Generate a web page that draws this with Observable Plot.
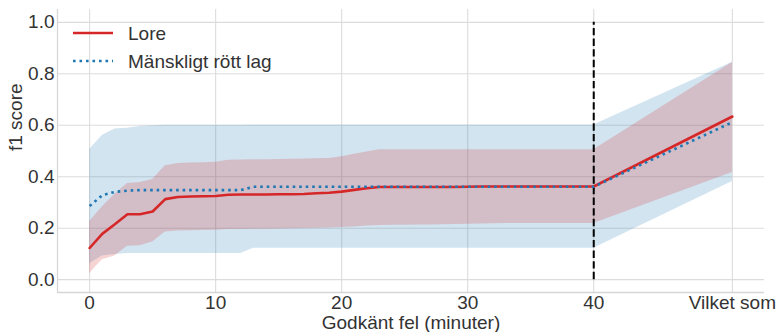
<!DOCTYPE html>
<html><head><meta charset="utf-8">
<script src="https://cdn.jsdelivr.net/npm/d3@7"></script>
<script src="https://cdn.jsdelivr.net/npm/@observablehq/plot@0.6"></script>
<style>
body{margin:0;background:#fff;}
#wrap{position:relative;width:777px;height:332px;font-family:"Liberation Sans",Arial,sans-serif;}
#legend{position:absolute;left:0;top:0;pointer-events:none;}
</style></head><body><div id="wrap"></div>
<script>
const xs = [0,1,2,3,4,5,6,7,8,9,10,11,12,13,14,15,16,17,18,19,20,21,22,23,24,25,26,27,28,29,30,31,32,33,34,35,36,37,38,39,40,51];
const loreMean = [0.123,0.178,0.215,0.254,0.254,0.265,0.313,0.321,0.323,0.324,0.325,0.330,0.331,0.331,0.331,0.332,0.332,0.333,0.336,0.338,0.342,0.349,0.355,0.360,0.360,0.360,0.360,0.360,0.360,0.360,0.361,0.362,0.362,0.362,0.362,0.362,0.362,0.362,0.362,0.362,0.362,0.634];
const loreHigh = [0.226,0.282,0.332,0.374,0.378,0.389,0.443,0.451,0.453,0.454,0.456,0.464,0.465,0.466,0.466,0.467,0.468,0.469,0.470,0.471,0.478,0.487,0.496,0.505,0.505,0.505,0.505,0.505,0.505,0.505,0.505,0.505,0.505,0.505,0.505,0.505,0.505,0.505,0.505,0.505,0.505,0.844];
const loreLow = [0.024,0.077,0.092,0.130,0.132,0.146,0.185,0.189,0.190,0.191,0.192,0.195,0.195,0.196,0.196,0.197,0.198,0.199,0.200,0.201,0.203,0.205,0.208,0.210,0.211,0.211,0.212,0.212,0.213,0.214,0.215,0.216,0.217,0.218,0.218,0.218,0.218,0.218,0.218,0.218,0.218,0.416];
const humanMean = [0.286,0.328,0.341,0.346,0.348,0.348,0.348,0.348,0.348,0.348,0.348,0.348,0.348,0.361,0.361,0.361,0.361,0.361,0.361,0.361,0.361,0.361,0.361,0.361,0.361,0.361,0.361,0.361,0.361,0.361,0.361,0.361,0.361,0.361,0.361,0.361,0.361,0.361,0.361,0.361,0.361,0.612];
const humanHigh = [0.506,0.560,0.586,0.588,0.595,0.598,0.600,0.600,0.600,0.600,0.600,0.600,0.600,0.601,0.601,0.601,0.601,0.601,0.601,0.601,0.601,0.601,0.601,0.601,0.601,0.601,0.601,0.601,0.601,0.601,0.601,0.601,0.601,0.601,0.601,0.601,0.601,0.601,0.601,0.601,0.601,0.845];
const humanLow = [0.062,0.092,0.098,0.102,0.102,0.102,0.102,0.102,0.102,0.102,0.102,0.102,0.102,0.122,0.122,0.122,0.122,0.122,0.122,0.122,0.122,0.122,0.122,0.122,0.122,0.122,0.122,0.122,0.122,0.122,0.122,0.122,0.122,0.122,0.122,0.122,0.122,0.122,0.122,0.122,0.122,0.381];
const seriesNames = ["Lore", "Mänskligt rött lag"];
const xTicks = [0,10,20,30,40,51];
const xTickLabels = ["0","10","20","30","40","Vilket som"];
const yTicks = [0,0.2,0.4,0.6,0.8,1.0];
const yTickLabels = ["0.0","0.2","0.4","0.6","0.8","1.0"];
const vlineX = [40];
const xLabel = "Godkänt fel (minuter)";
const yLabel = "f1 score";
const xDomain = [-2.55, 53.55];
const yDomain = [-0.05, 1.05];

const RED = "#d62728", BLUE = "#1f77b4";
const FONT = "'Liberation Sans', Arial, sans-serif";
const rows = xs.map((x, i) => ({x, lore: loreMean[i], loreHi: loreHigh[i], loreLo: loreLow[i], hum: humanMean[i], humHi: humanHigh[i], humLo: humanLow[i]}));
const gridStyle = {stroke: "#dcdcdc", strokeOpacity: 1, strokeWidth: 1.1};

const plot = Plot.plot({
  width: 777, height: 332,
  marginLeft: 57, marginRight: 13, marginTop: 9, marginBottom: 40,
  x: {domain: xDomain},
  y: {domain: yDomain},
  style: {fontFamily: FONT, fontSize: "19px", color: "#333", background: "#fff", overflow: "visible"},
  marks: [
    Plot.gridX(xTicks, gridStyle),
    Plot.gridY(yTicks, gridStyle),
    Plot.ruleX([xDomain[0]], {stroke: "#d6d6d6", strokeWidth: 1.3}),
    Plot.ruleY([yDomain[0]], {stroke: "#d6d6d6", strokeWidth: 1.3}),
    Plot.areaY(rows, {x: "x", y1: "humLo", y2: "humHi", fill: BLUE, fillOpacity: 0.2}),
    Plot.areaY(rows, {x: "x", y1: "loreLo", y2: "loreHi", fill: RED, fillOpacity: 0.2}),
    Plot.ruleX(vlineX, {y1: yTicks[0], y2: yTicks[yTicks.length - 1], stroke: "#000", strokeWidth: 2, strokeDasharray: "7.4,3.2"}),
    Plot.lineY(rows, {x: "x", y: "lore", stroke: RED, strokeWidth: 2.6}),
    Plot.lineY(rows, {x: "x", y: "hum", stroke: BLUE, strokeWidth: 2.6, strokeDasharray: "2.6,3.9", strokeLinecap: "butt"}),
    Plot.axisX({ticks: xTicks, tickFormat: d => xTickLabels[xTicks.indexOf(d)], tickSize: 0, tickPadding: 3, label: null, fill: "#333"}),
    Plot.axisY({ticks: yTicks, tickFormat: d => yTickLabels[yTicks.indexOf(d)], tickSize: 0, tickPadding: 3, label: null, fill: "#333"}),
    Plot.text([xLabel], {text: d => d, frameAnchor: "bottom", dy: 36, lineAnchor: "bottom", fill: "#333"}),
    Plot.text([yLabel], {text: d => d, frameAnchor: "left", rotate: -90, dx: -36, lineAnchor: "bottom", fill: "#333"})
  ]
});
const wrap = document.getElementById("wrap");
wrap.appendChild(plot);

// legend overlay
const ns = "http://www.w3.org/2000/svg";
const lg = document.createElementNS(ns, "svg");
lg.setAttribute("id", "legend");
lg.setAttribute("width", "320");
lg.setAttribute("height", "90");
const legendStyles = [
  {stroke: RED, dash: null},
  {stroke: BLUE, dash: "2.6,3.9"}
];
seriesNames.forEach((name, i) => {
  const yy = 33 + i * 28;
  const ln = document.createElementNS(ns, "line");
  ln.setAttribute("x1", 73); ln.setAttribute("x2", 113);
  ln.setAttribute("y1", yy); ln.setAttribute("y2", yy);
  ln.setAttribute("stroke", legendStyles[i].stroke);
  ln.setAttribute("stroke-width", 2.6);
  if (legendStyles[i].dash) ln.setAttribute("stroke-dasharray", legendStyles[i].dash);
  lg.appendChild(ln);
  const tx = document.createElementNS(ns, "text");
  tx.setAttribute("x", 128); tx.setAttribute("y", yy + 7);
  tx.setAttribute("fill", "#333");
  tx.setAttribute("font-size", "19px");
  tx.setAttribute("font-family", FONT);
  tx.textContent = name;
  lg.appendChild(tx);
});
wrap.appendChild(lg);
</script></body></html>
